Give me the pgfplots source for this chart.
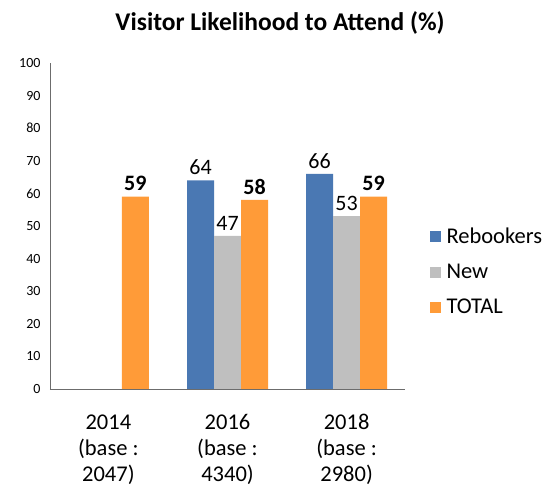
\documentclass[border=0pt]{standalone}
\usepackage{pgfplots}
\pgfplotsset{compat=1.18}
\usepackage{fontspec}
\setmainfont{Carlito}
\definecolor{cblue}{HTML}{4A78B3}
\definecolor{cgray}{HTML}{BFBFBF}
\definecolor{corange}{HTML}{FF9B38}
\begin{document}
\begin{tikzpicture}
\path (-50pt,-100pt) rectangle (499pt,389pt);
\node[font=\fontsize{25.5}{27}\selectfont\bfseries] at (230pt,366pt) {Visitor Likelihood to Attend (\%)};
\begin{axis}[anchor=south west,scale only axis,
width=355pt,height=326pt,
ybar=0pt,bar width=27pt,
xmin=-0.49,xmax=2.49,ymin=0,ymax=100,
xtick={0,1,2},
xticklabels={2014\\(base :\\2047),2016\\(base :\\4340),2018\\(base :\\2980)},
xticklabel style={align=center,font=\fontsize{22.5}{26}\selectfont,yshift=-22pt},
ytick={0,10,...,100},
yticklabel style={font=\fontsize{14}{16}\selectfont,xshift=-6pt},
/pgf/number format/assume math mode=true,
major tick length=0pt,
axis x line*=bottom,axis y line*=left,
axis line style={gray!85!black,line width=0.8pt},
legend style={at={(1.06,0.36)},anchor=west,draw=none,fill=none,
font=\fontsize{22.5}{25}\selectfont,row sep=15pt},
legend cell align=left,
legend image code/.code={\fill[#1] (0pt,-5.5pt) rectangle (11pt,5.5pt);},
nodes near coords,
every node near coord/.append style={font=\fontsize{22}{24}\selectfont,text=black,yshift=2pt},
clip=false]
\addplot[fill=cblue,draw=none] coordinates {(1,64) (2,66)};
\addlegendentry{\hspace{4pt}Rebookers}
\addplot[fill=cgray,draw=none] coordinates {(1,47) (2,53)};
\addlegendentry{\hspace{4pt}New}
\addplot[fill=corange,draw=none,every node near coord/.append style={font=\fontsize{22}{24}\selectfont\bfseries}] coordinates {(0,59) (1,58) (2,59)};
\addlegendentry{\hspace{4pt}TOTAL}
\end{axis}
\end{tikzpicture}
\end{document}
